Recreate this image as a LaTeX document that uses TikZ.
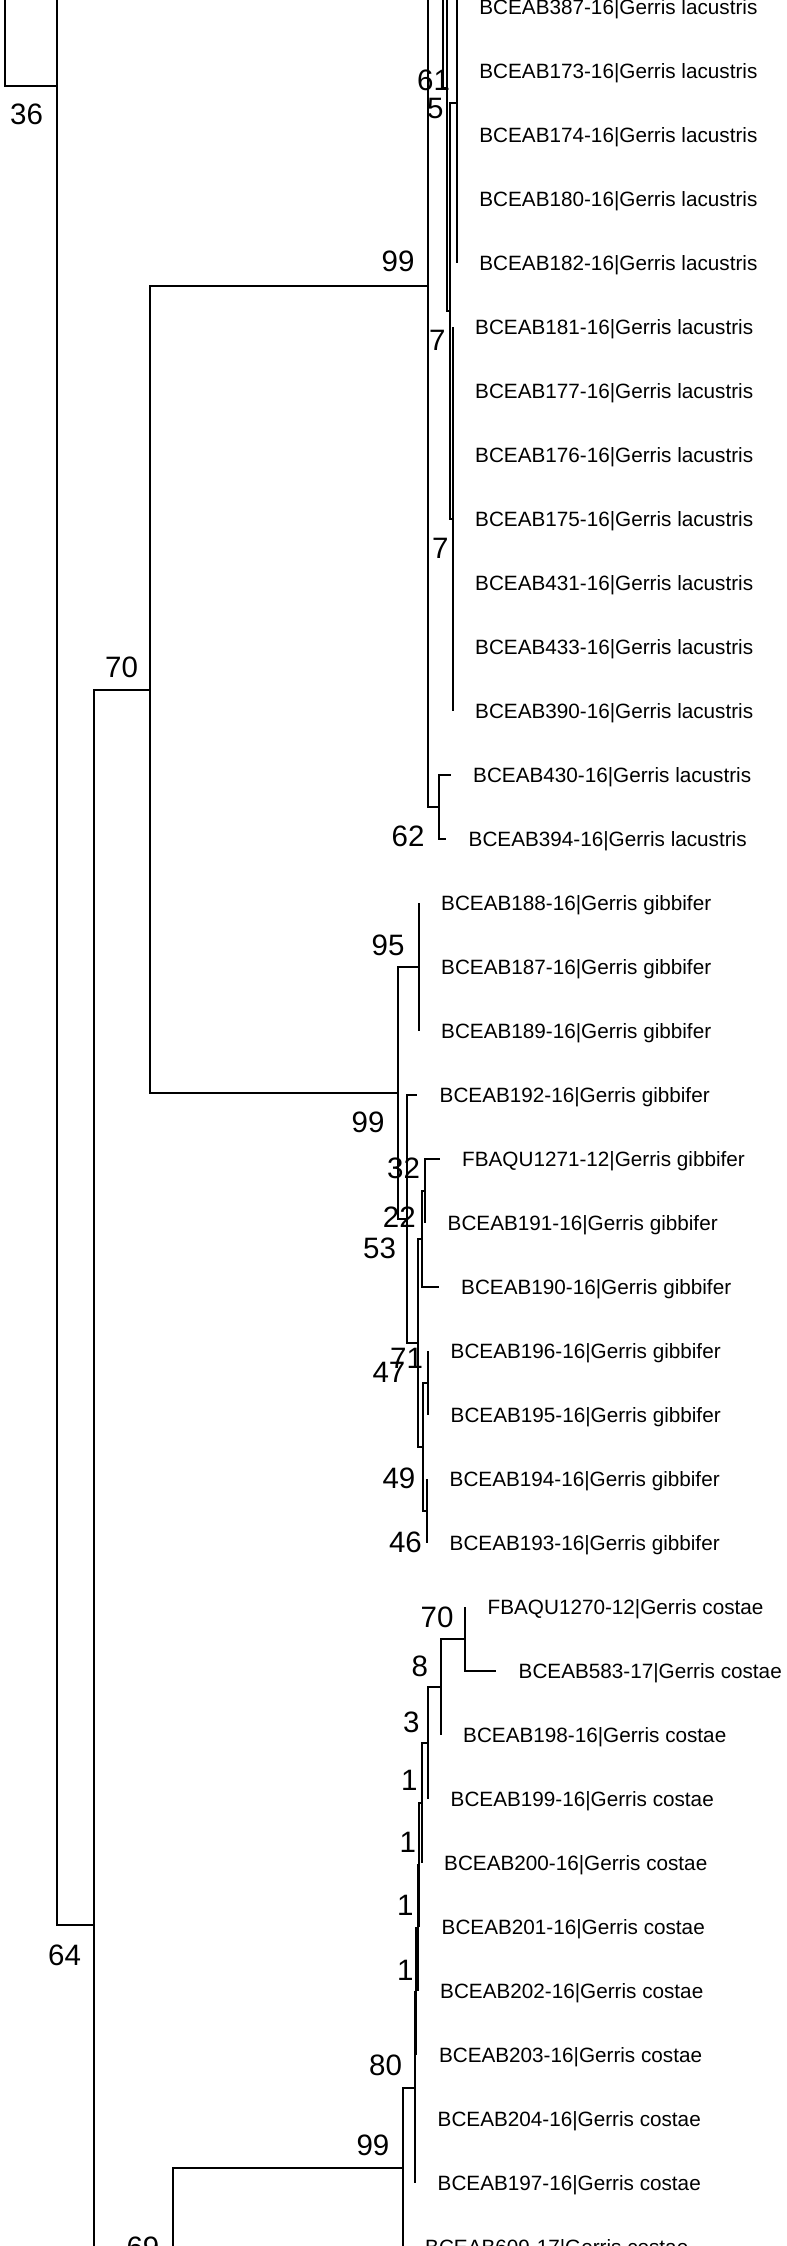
\documentclass[tikz,border=0pt]{standalone}
\usepackage{fontspec}
\setmainfont{Liberation Sans}
\usetikzlibrary{calc}
\begin{document}
\begin{tikzpicture}[x=1pt,y=-1pt,
  br/.style={line width=2pt},
  leaflab/.style={anchor=base west, inner sep=0pt, font=\fontsize{20.7}{24}\selectfont},
  bs/.style={anchor=base west, inner sep=0pt, font=\fontsize{29.5}{34}\selectfont}]
\useasboundingbox (0,0) rectangle (787,2246);
\fill[white] (0,0) rectangle (787,2246);
\clip (0,0) rectangle (787,2246);
% ---------- internal nodes ----------
\coordinate (r0) at (5,-60);
\coordinate (n36) at (56.5,86);
\coordinate (u36) at (70,-1753);
\coordinate (n64) at (93.5,1925);
\coordinate (u64) at (120,3160);
\coordinate (n70) at (150,689.5);
\coordinate (n99a) at (428,286);
\coordinate (nH) at (443.3,-235);
\coordinate (uH) at (445,-560);
\coordinate (nG) at (446.5,88);
\coordinate (uG) at (448,-134.8);
\coordinate (nF) at (450,310.8);
\coordinate (nB) at (456.7,102.73);
\coordinate (nE) at (452.5,518.86);
\coordinate (n62) at (438.5,806.95);
\coordinate (n99b) at (397.5,1093.04);
\coordinate (n95) at (418.5,967);
\coordinate (nJ) at (407.3,1219.08);
\coordinate (nK) at (417.7,1343.12);
\coordinate (nL) at (422,1239.09);
\coordinate (nM) at (425,1191.07);
\coordinate (nN) at (423.3,1447.15);
\coordinate (nO) at (428,1383.13);
\coordinate (nP) at (427,1511.17);
\coordinate (nQ) at (465,1639.21);
\coordinate (nR) at (440.5,1687.23);
\coordinate (nS) at (428,1743.25);
\coordinate (nT) at (421.5,1803.27);
\coordinate (nU) at (419,1865.29);
\coordinate (nV) at (417.5,1928.3);
\coordinate (nW) at (416.3,1991.82);
\coordinate (nZ) at (415,2087.6);
\coordinate (n99c) at (402.5,2167.5);
\coordinate (n69) at (172.5,2270);
% ---------- leaf tips ----------
\coordinate (lm1) at (456.7,-57.32);
\coordinate (l0) at (456.7,6.7);
\coordinate (l1) at (456.7,70.72);
\coordinate (l2) at (456.7,134.74);
\coordinate (l3) at (456.7,198.76);
\coordinate (l4) at (456.7,262.78);
\coordinate (l5) at (452.5,326.8);
\coordinate (l6) at (452.5,390.82);
\coordinate (l7) at (452.5,454.84);
\coordinate (l8) at (452.5,518.86);
\coordinate (l9) at (452.5,582.88);
\coordinate (l10) at (452.5,646.9);
\coordinate (l11) at (452.5,710.92);
\coordinate (l12) at (450.5,774.94);
\coordinate (l13) at (446,838.96);
\coordinate (l14) at (418.5,902.98);
\coordinate (l15) at (418.5,967);
\coordinate (l16) at (418.5,1031.02);
\coordinate (l17) at (417,1095.04);
\coordinate (l18) at (439.5,1159.06);
\coordinate (l19) at (425,1223.08);
\coordinate (l20) at (438.5,1287.1);
\coordinate (l21) at (428,1351.12);
\coordinate (l22) at (428,1415.14);
\coordinate (l23) at (427,1479.16);
\coordinate (l24) at (427,1543.18);
\coordinate (l25) at (465,1607.2);
\coordinate (l26) at (496,1671.22);
\coordinate (l27) at (440.5,1735.24);
\coordinate (l28) at (428,1799.26);
\coordinate (l29) at (421.5,1863.28);
\coordinate (l30) at (419,1927.3);
\coordinate (l31) at (417.5,1991.32);
\coordinate (l32) at (416.3,2055.34);
\coordinate (l33) at (415,2119.36);
\coordinate (l34) at (415,2183.38);
\coordinate (l35) at (402.5,2247.4);
% ---------- branches ----------
\draw[br] (r0) |- (n36);
\draw[br] (n36) |- (u36);
\draw[br] (n36) |- (n64);
\draw[br] (n64) |- (n70);
\draw[br] (n64) |- (u64);
\draw[br] (n70) |- (n99a);
\draw[br] (n70) |- (n99b);
\draw[br] (n99a) |- (nH);
\draw[br] (n99a) |- (n62);
\draw[br] (nH) |- (uH);
\draw[br] (nH) |- (nG);
\draw[br] (nG) |- (uG);
\draw[br] (nG) |- (nF);
\draw[br] (nF) |- (nB);
\draw[br] (nF) |- (nE);
\foreach \c in {lm1,l0,l1,l2,l3,l4} \draw[br] (nB) |- (\c);
\foreach \c in {l5,l6,l7,l8,l9,l10,l11} \draw[br] (nE) |- (\c);
\draw[br] (n62) |- (l12);
\draw[br] (n62) |- (l13);
\draw[br] (n99b) |- (n95);
\draw[br] (n99b) |- (nJ);
\foreach \c in {l14,l15,l16} \draw[br] (n95) |- (\c);
\draw[br] (nJ) |- (l17);
\draw[br] (nJ) |- (nK);
\draw[br] (nK) |- (nL);
\draw[br] (nK) |- (nN);
\draw[br] (nL) |- (nM);
\draw[br] (nL) |- (l20);
\draw[br] (nM) |- (l18);
\draw[br] (nM) |- (l19);
\draw[br] (nN) |- (nO);
\draw[br] (nN) |- (nP);
\draw[br] (nO) |- (l21);
\draw[br] (nO) |- (l22);
\draw[br] (nP) |- (l23);
\draw[br] (nP) |- (l24);
\draw[br] (n69) |- (n99c);
\draw[br] (n99c) |- (nZ);
\draw[br] (n99c) |- (l35);
\draw[br] (nZ) |- (nW);
\draw[br] (nZ) |- (l33);
\draw[br] (nZ) |- (l34);
\draw[br] (nW) |- (nV);
\draw[br] (nW) |- (l32);
\draw[br] (nV) |- (nU);
\draw[br] (nV) |- (l31);
\draw[br] (nU) |- (nT);
\draw[br] (nU) |- (l30);
\draw[br] (nT) |- (nS);
\draw[br] (nT) |- (l29);
\draw[br] (nS) |- (nR);
\draw[br] (nS) |- (l28);
\draw[br] (nR) |- (nQ);
\draw[br] (nR) |- (l27);
\draw[br] (nQ) |- (l25);
\draw[br] (nQ) |- (l26);
% ---------- leaf labels ----------
\node[leaflab] (t0) at ($(l0)+(22.5,7.5)$) {BCEAB387-16|Gerris lacustris};
\node[leaflab] (t1) at ($(l1)+(22.5,7.5)$) {BCEAB173-16|Gerris lacustris};
\node[leaflab] (t2) at ($(l2)+(22.5,7.5)$) {BCEAB174-16|Gerris lacustris};
\node[leaflab] (t3) at ($(l3)+(22.5,7.5)$) {BCEAB180-16|Gerris lacustris};
\node[leaflab] (t4) at ($(l4)+(22.5,7.5)$) {BCEAB182-16|Gerris lacustris};
\node[leaflab] (t5) at ($(l5)+(22.5,7.5)$) {BCEAB181-16|Gerris lacustris};
\node[leaflab] (t6) at ($(l6)+(22.5,7.5)$) {BCEAB177-16|Gerris lacustris};
\node[leaflab] (t7) at ($(l7)+(22.5,7.5)$) {BCEAB176-16|Gerris lacustris};
\node[leaflab] (t8) at ($(l8)+(22.5,7.5)$) {BCEAB175-16|Gerris lacustris};
\node[leaflab] (t9) at ($(l9)+(22.5,7.5)$) {BCEAB431-16|Gerris lacustris};
\node[leaflab] (t10) at ($(l10)+(22.5,7.5)$) {BCEAB433-16|Gerris lacustris};
\node[leaflab] (t11) at ($(l11)+(22.5,7.5)$) {BCEAB390-16|Gerris lacustris};
\node[leaflab] (t12) at ($(l12)+(22.5,7.5)$) {BCEAB430-16|Gerris lacustris};
\node[leaflab] (t13) at ($(l13)+(22.5,7.5)$) {BCEAB394-16|Gerris lacustris};
\node[leaflab] (t14) at ($(l14)+(22.5,7.5)$) {BCEAB188-16|Gerris gibbifer};
\node[leaflab] (t15) at ($(l15)+(22.5,7.5)$) {BCEAB187-16|Gerris gibbifer};
\node[leaflab] (t16) at ($(l16)+(22.5,7.5)$) {BCEAB189-16|Gerris gibbifer};
\node[leaflab] (t17) at ($(l17)+(22.5,7.5)$) {BCEAB192-16|Gerris gibbifer};
\node[leaflab] (t18) at ($(l18)+(22.5,7.5)$) {FBAQU1271-12|Gerris gibbifer};
\node[leaflab] (t19) at ($(l19)+(22.5,7.5)$) {BCEAB191-16|Gerris gibbifer};
\node[leaflab] (t20) at ($(l20)+(22.5,7.5)$) {BCEAB190-16|Gerris gibbifer};
\node[leaflab] (t21) at ($(l21)+(22.5,7.5)$) {BCEAB196-16|Gerris gibbifer};
\node[leaflab] (t22) at ($(l22)+(22.5,7.5)$) {BCEAB195-16|Gerris gibbifer};
\node[leaflab] (t23) at ($(l23)+(22.5,7.5)$) {BCEAB194-16|Gerris gibbifer};
\node[leaflab] (t24) at ($(l24)+(22.5,7.5)$) {BCEAB193-16|Gerris gibbifer};
\node[leaflab] (t25) at ($(l25)+(22.5,7.5)$) {FBAQU1270-12|Gerris costae};
\node[leaflab] (t26) at ($(l26)+(22.5,7.5)$) {BCEAB583-17|Gerris costae};
\node[leaflab] (t27) at ($(l27)+(22.5,7.5)$) {BCEAB198-16|Gerris costae};
\node[leaflab] (t28) at ($(l28)+(22.5,7.5)$) {BCEAB199-16|Gerris costae};
\node[leaflab] (t29) at ($(l29)+(22.5,7.5)$) {BCEAB200-16|Gerris costae};
\node[leaflab] (t30) at ($(l30)+(22.5,7.5)$) {BCEAB201-16|Gerris costae};
\node[leaflab] (t31) at ($(l31)+(22.5,7.5)$) {BCEAB202-16|Gerris costae};
\node[leaflab] (t32) at ($(l32)+(22.5,7.5)$) {BCEAB203-16|Gerris costae};
\node[leaflab] (t33) at ($(l33)+(22.5,7.5)$) {BCEAB204-16|Gerris costae};
\node[leaflab] (t34) at ($(l34)+(22.5,7.5)$) {BCEAB197-16|Gerris costae};
\node[leaflab] (t35) at ($(l35)+(22.5,7.5)$) {BCEAB609-17|Gerris costae};
% ---------- support values ----------
\node[bs] (s36) at (10,124) {36};
\node[bs] (s99a) at (381.5,271.7) {99};
\node[bs] (s70) at (105,677) {70};
\node[bs] (s61) at (417,90) {61};
\node[bs] (s5) at (427,118) {5};
\node[bs] (s7a) at (429,350) {7};
\node[bs] (s7b) at (432,558) {7};
\node[bs] (s62) at (391.5,846) {62};
\node[bs] (s95) at (371.5,955) {95};
\node[bs] (s99b) at (351.5,1132) {99};
\node[bs] (s32) at (387,1178) {32};
\node[bs] (s22) at (382.7,1227) {22};
\node[bs] (s53) at (363,1258) {53};
\node[bs] (s71) at (390,1368) {71};
\node[bs] (s47) at (372.3,1382) {47};
\node[bs] (s49) at (382.3,1488) {49};
\node[bs] (s46) at (388.8,1552) {46};
\node[bs] (s70b) at (420.5,1627) {70};
\node[bs] (s8) at (411.4,1676) {8};
\node[bs] (s3) at (403,1732) {3};
\node[bs] (s1a) at (401,1790) {1};
\node[bs] (s1b) at (399.5,1852) {1};
\node[bs] (s1c) at (397,1915) {1};
\node[bs] (s1d) at (397,1980) {1};
\node[bs] (s80) at (369,2075) {80};
\node[bs] (s99c) at (356.3,2155) {99};
\node[bs] (s64) at (48,1965) {64};
\node[bs] (s69) at (126.3,2257) {69};
\end{tikzpicture}
\end{document}
